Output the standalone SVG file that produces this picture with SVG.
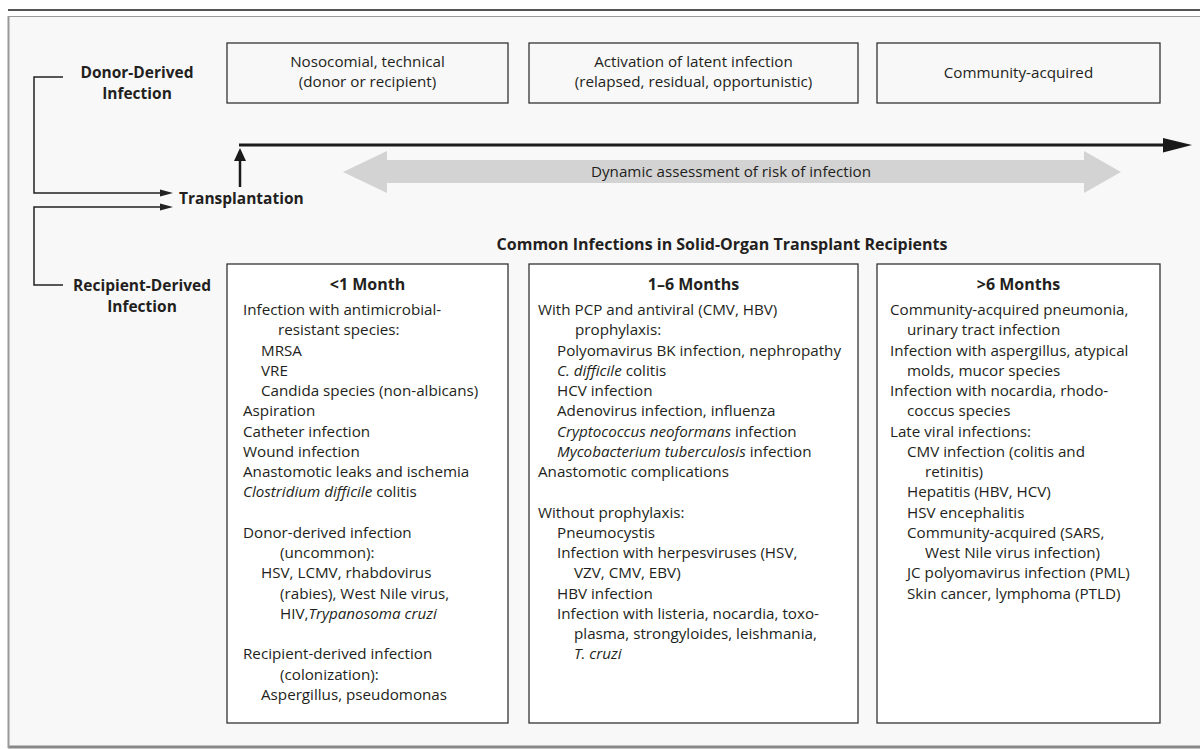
<svg xmlns="http://www.w3.org/2000/svg" width="1200" height="749" viewBox="0 0 1200 749">
<defs>
<style>
text{font-family:"Open Sans","Liberation Sans",sans-serif;fill:#231f20;font-size:15.2px}
.b{font-weight:bold;font-size:15.5px}
.t{font-size:16px}
.c{text-anchor:middle}
.i{font-style:italic}
.box{stroke:#333;stroke-width:1.3}
.top{fill:#f8f8f8}
.bot{fill:#ffffff}
.ln{fill:none;stroke:#222;stroke-width:1.5}
</style>
</defs>
<rect x="0" y="0" width="1200" height="749" fill="#ffffff"/>
<line x1="8" y1="10" x2="1200" y2="10" stroke="#555" stroke-width="2"/>
<rect x="8.5" y="16.5" width="1195" height="730" fill="#f8f8f8" stroke="#999" stroke-width="1"/>
<line x1="8" y1="747" x2="1200" y2="747" stroke="#888" stroke-width="3"/>
<line x1="8.5" y1="16" x2="8.5" y2="748" stroke="#999" stroke-width="2"/>

<g id="phase-nosocomial">
<rect class="box top" x="227" y="43" width="281" height="60"/>
<text class="c" x="367.5" y="67">Nosocomial, technical</text>
<text class="c" x="367.5" y="87">(donor or recipient)</text>
</g>
<g id="phase-latent">
<rect class="box top" x="529" y="43" width="329" height="60"/>
<text class="c" x="693.5" y="67">Activation of latent infection</text>
<text class="c" x="693.5" y="87">(relapsed, residual, opportunistic)</text>
</g>
<g id="phase-community">
<rect class="box top" x="877" y="43" width="283" height="60"/>
<text class="c" x="1018.5" y="78">Community-acquired</text>
</g>

<g id="donor-derived">
<text class="b c" x="137" y="78">Donor-Derived</text>
<text class="b c" x="137" y="99">Infection</text>
</g>
<g id="recipient-derived">
<text class="b c" x="142" y="291">Recipient-Derived</text>
<text class="b c" x="142" y="312">Infection</text>
</g>
<g id="transplantation">
<text class="b" x="179" y="204">Transplantation</text>
</g>

<g id="connectors">
<path class="ln" d="M63,77 H34 V193 H162"/>
<polygon points="160,189.5 173,193 160,196.5" fill="#222"/>
<path class="ln" d="M162,207 H34 V285 H63"/>
<polygon points="160,203.5 173,207 160,210.5" fill="#222"/>
<line x1="240" y1="187" x2="240" y2="158" stroke="#1a1a1a" stroke-width="2.5"/>
<polygon points="234,161 240,148 246,161" fill="#1a1a1a"/>
<line x1="239" y1="145" x2="1165" y2="145" stroke="#1a1a1a" stroke-width="3"/>
<polygon points="1163,138 1192,145 1163,152.5" fill="#1a1a1a"/>
</g>

<g id="risk-arrow">
<polygon points="343,172 387,151 387,160 1084,160 1084,151 1121,172 1084,193 1084,183 387,183 387,193" fill="#d3d3d3"/>
<text class="c" x="731" y="177">Dynamic assessment of risk of infection</text>
</g>

<g id="common-title">
<text class="b c t" x="722" y="250">Common Infections in Solid-Organ Transplant Recipients</text>
</g>

<g id="col-lt1">
<rect class="box bot" x="227" y="264" width="281" height="459"/>
<text class="b c t" x="367.5" y="290">&lt;1 Month</text>
<text x="243" y="315">Infection with antimicrobial-</text>
<text x="278" y="335.25">resistant species:</text>
<text x="261" y="355.5">MRSA</text>
<text x="261" y="375.75">VRE</text>
<text x="261" y="396">Candida species (non-albicans)</text>
<text x="243" y="416.25">Aspiration</text>
<text x="243" y="436.5">Catheter infection</text>
<text x="243" y="456.75">Wound infection</text>
<text x="243" y="477">Anastomotic leaks and ischemia</text>
<text x="243" y="497.25"><tspan class="i">Clostridium difficile</tspan> colitis</text>
<text x="243" y="537.75">Donor-derived infection</text>
<text x="280" y="558">(uncommon):</text>
<text x="261" y="578.25">HSV, LCMV, rhabdovirus</text>
<text x="280" y="598.5">(rabies), West Nile virus,</text>
<text x="280" y="618.75">HIV,<tspan class="i">Trypanosoma cruzi</tspan></text>
<text x="243" y="659.25">Recipient-derived infection</text>
<text x="280" y="679.5">(colonization):</text>
<text x="261" y="699.75">Aspergillus, pseudomonas</text>
</g>

<g id="col-1to6">
<rect class="box bot" x="529" y="264" width="329" height="459"/>
<text class="b c t" x="693.5" y="290">1–6 Months</text>
<text x="538" y="315">With PCP and antiviral (CMV, HBV)</text>
<text x="575" y="335.25">prophylaxis:</text>
<text x="557" y="355.5">Polyomavirus BK infection, nephropathy</text>
<text x="557" y="375.75"><tspan class="i">C. difficile</tspan> colitis</text>
<text x="557" y="396">HCV infection</text>
<text x="557" y="416.25">Adenovirus infection, influenza</text>
<text x="557" y="436.5"><tspan class="i">Cryptococcus neoformans</tspan> infection</text>
<text x="557" y="456.75"><tspan class="i">Mycobacterium tuberculosis</tspan> infection</text>
<text x="538" y="477">Anastomotic complications</text>
<text x="538" y="517.5">Without prophylaxis:</text>
<text x="557" y="537.75">Pneumocystis</text>
<text x="557" y="558">Infection with herpesviruses (HSV,</text>
<text x="574" y="578.25">VZV, CMV, EBV)</text>
<text x="557" y="598.5">HBV infection</text>
<text x="557" y="618.75">Infection with listeria, nocardia, toxo-</text>
<text x="574" y="639">plasma, strongyloides, leishmania,</text>
<text x="574" y="659.25" class="i">T. cruzi</text>
</g>

<g id="col-gt6">
<rect class="box bot" x="877" y="264" width="283" height="459"/>
<text class="b c t" x="1018.5" y="290">&gt;6 Months</text>
<text x="890" y="315">Community-acquired pneumonia,</text>
<text x="907" y="335.25">urinary tract infection</text>
<text x="890" y="355.5">Infection with aspergillus, atypical</text>
<text x="907" y="375.75">molds, mucor species</text>
<text x="890" y="396">Infection with nocardia, rhodo-</text>
<text x="907" y="416.25">coccus species</text>
<text x="890" y="436.5">Late viral infections:</text>
<text x="907" y="456.75">CMV infection (colitis and</text>
<text x="925" y="477">retinitis)</text>
<text x="907" y="497.25">Hepatitis (HBV, HCV)</text>
<text x="907" y="517.5">HSV encephalitis</text>
<text x="907" y="537.75">Community-acquired (SARS,</text>
<text x="925" y="558">West Nile virus infection)</text>
<text x="907" y="578.25">JC polyomavirus infection (PML)</text>
<text x="907" y="598.5">Skin cancer, lymphoma (PTLD)</text>
</g>
</svg>
